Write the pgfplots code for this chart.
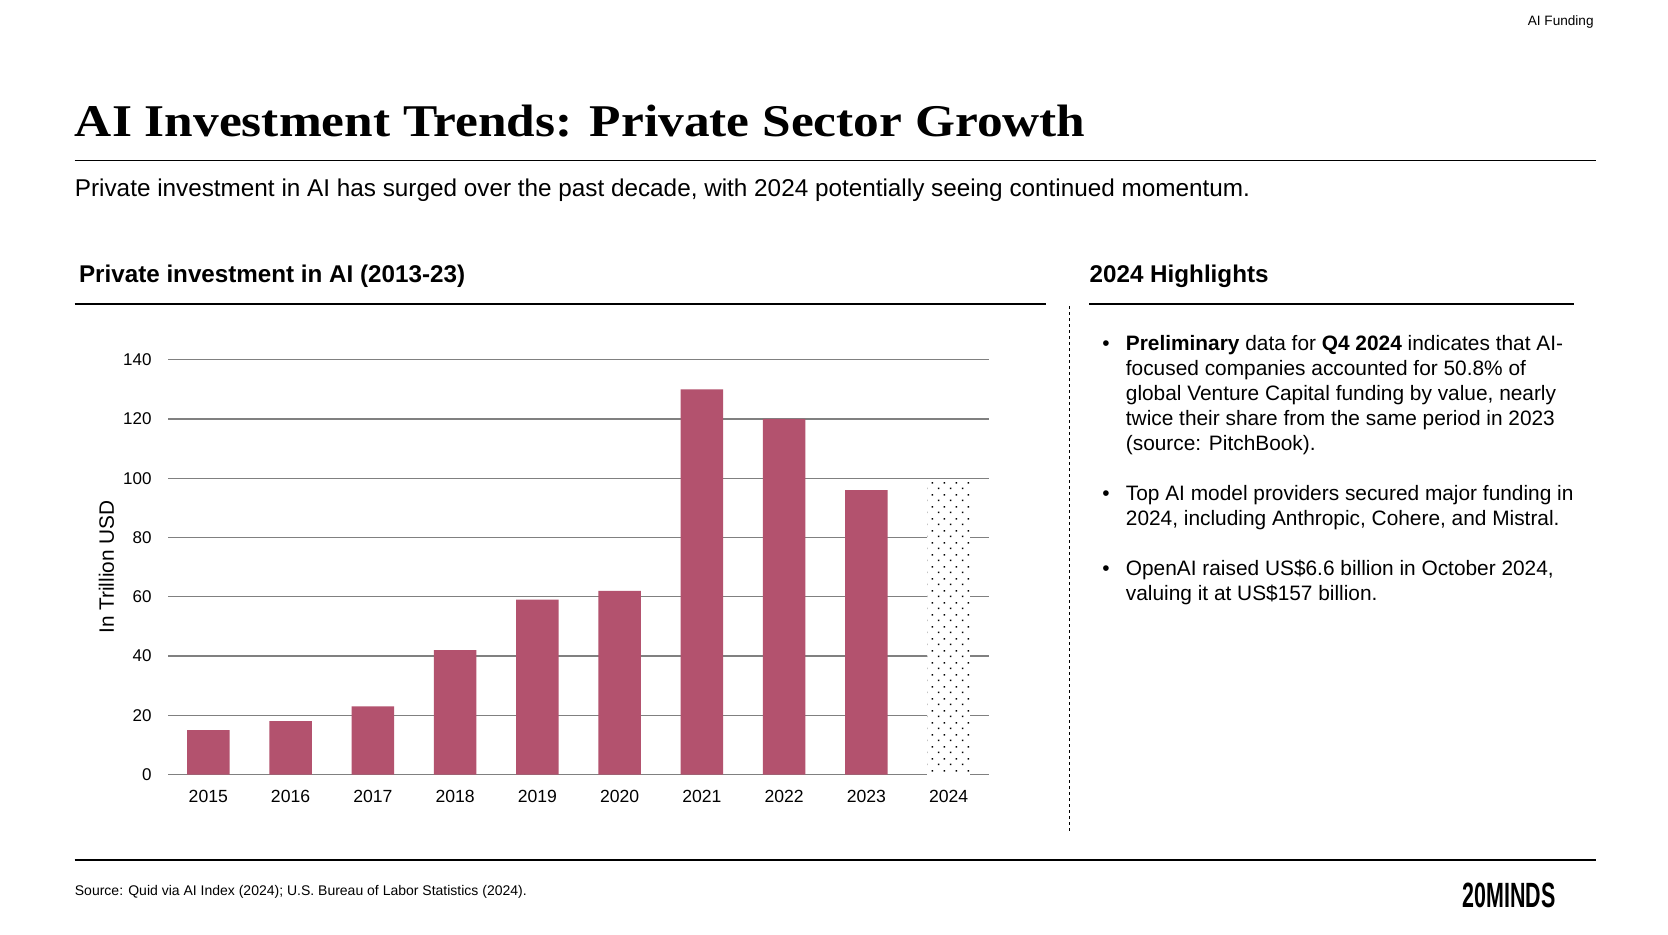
\documentclass[border=0pt]{standalone}
\usepackage{fontspec}
\setmainfont{Liberation Sans}
\newfontfamily\titlefont{Liberation Serif}
\usepackage{graphicx}
\usepackage{pgfplots}
\pgfplotsset{compat=1.18}
\usetikzlibrary{patterns}
\definecolor{barred}{RGB}{179,82,110}
\definecolor{gridgray}{RGB}{128,128,128}
\pgfdeclarepatternformonly{mydots}{\pgfpointorigin}{\pgfpoint{6pt}{6pt}}{\pgfpoint{6pt}{6pt}}{%
 \pgfpathrectangle{\pgfpoint{1pt}{1pt}}{\pgfpoint{0.85pt}{0.85pt}}%
 \pgfpathrectangle{\pgfpoint{4pt}{4pt}}{\pgfpoint{0.85pt}{0.85pt}}%
 \pgfusepath{fill}}
\begin{document}
\begin{tikzpicture}
\begin{scope}[x=0.5pt,y=-0.5pt]
\fill[white] (0,0) rectangle (1668,934);
\path[use as bounding box] (0,0) rectangle (1668,934);
% header
\node[anchor=base east, inner sep=0pt, font=\fontsize{6.8}{8}\selectfont] at (1594,25.5) {AI Funding};
\node[anchor=base west, inner sep=0pt] at (74.5,136.7) {\resizebox{505.3pt}{\height}{\titlefont\bfseries\fontsize{22.7}{26}\selectfont AI Investment Trends: Private Sector Growth}};
\draw[line width=0.6pt] (74.5,160.6) -- (1596,160.6);
\node[anchor=base west, inner sep=0pt, font=\fontsize{12.15}{14}\selectfont] at (74.5,196) {Private investment in AI has surged over the past decade, with 2024 potentially seeing continued momentum.};
% section titles
\node[anchor=base west, inner sep=0pt, font=\bfseries\fontsize{12.1}{14}\selectfont] at (78.7,282) {Private investment in AI (2013-23)};
\node[anchor=base west, inner sep=0pt, font=\bfseries\fontsize{12.1}{14}\selectfont] at (1089.3,282) {2024 Highlights};
\draw[line width=1.1pt] (74.5,304) -- (1046,304);
\draw[line width=1.1pt] (1089,304) -- (1574,304);
\draw[line width=0.5pt, dash pattern=on 1.5pt off 1.5pt] (1069,306) -- (1069,832);
% bullets
\begin{scope}[every node/.style={anchor=base west, inner sep=0pt, font=\fontsize{10.43}{12.4}\selectfont}]
\node at (1102,350.5) {\textbullet};
\node at (1125.5,350.5) {\textbf{Preliminary} data for \textbf{Q4 2024} indicates that AI-};
\node at (1125.5,375.4) {focused companies accounted for 50.8\% of};
\node at (1125.5,400.3) {global Venture Capital funding by value, nearly};
\node at (1125.5,425.2) {twice their share from the same period in 2023};
\node at (1125.5,450.1) {(source: PitchBook).};
\node at (1102,500.6) {\textbullet};
\node at (1125.5,500.6) {Top AI model providers secured major funding in};
\node at (1125.5,525.5) {2024, including Anthropic, Cohere, and Mistral.};
\node at (1102,575.3) {\textbullet};
\node at (1125.5,575.3) {OpenAI raised US\$6.6 billion in October 2024,};
\node at (1125.5,600.2) {valuing it at US\$157 billion.};
\end{scope}
% footer
\draw[line width=0.6pt] (74.5,860) -- (1596,860);
\node[anchor=base west, inner sep=0pt, font=\fontsize{7}{8}\selectfont] at (74.5,895) {Source: Quid via AI Index (2024); U.S. Bureau of Labor Statistics (2024).};
\node[anchor=base west, inner sep=0pt] at (1462,907.5) {\resizebox{46.5pt}{12.25pt}{\bfseries 20MINDS}};
% y label
\node[rotate=90, inner sep=0pt, font=\fontsize{10.4}{12}\selectfont] at (106.4,567) {In Trillion USD};
\coordinate (O) at (168,774.5);
\end{scope}
\begin{axis}[
  at={(O)}, anchor=south west,
  scale only axis, width=410.5pt, height=207.45pt,
  xmin=-0.49, xmax=9.49, ymin=0, ymax=140,
  ytick={0,20,40,60,80,100,120,140},
  xtick={0,1,2,3,4,5,6,7,8,9},
  xticklabels={2015,2016,2017,2018,2019,2020,2021,2022,2023,2024},
  axis line style={draw=none},
  major tick length=0pt,
  ymajorgrids, grid style={gridgray, line width=0.65pt},
  ybar, bar width=21.25pt, bar shift=0pt,
  /pgf/number format/assume math mode=true,
  yticklabel style={font=\fontsize{8.5}{10}\selectfont, anchor=east, inner sep=0pt, xshift=-8pt},
  xticklabel style={font=\fontsize{8.8}{10}\selectfont, anchor=base, inner sep=0pt, yshift=-13.75pt},
  clip=false,
]
\addplot[fill=barred, draw=none] coordinates {(0,15) (1,18) (2,23) (3,42) (4,59) (5,62) (6,130) (7,120) (8,96)};
\addplot[fill=white, draw=none, postaction={pattern=mydots}] coordinates {(9,99)};
\end{axis}
\end{tikzpicture}
\end{document}
